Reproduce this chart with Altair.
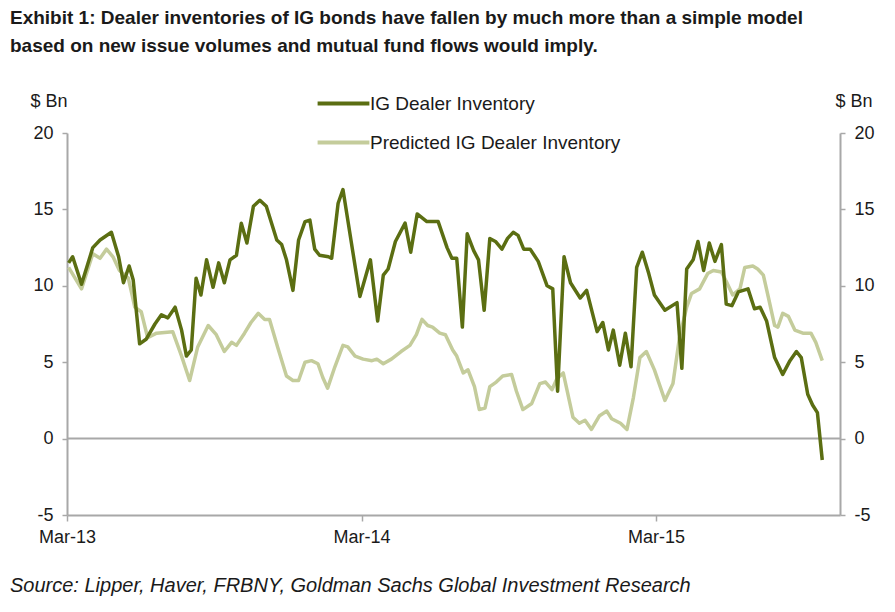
import altair as alt
import pandas as pd

TITLE_LINES = [
    "Exhibit 1: Dealer inventories of IG bonds have fallen by much more than a simple model",
    "based on new issue volumes and mutual fund flows would imply.",
]
SOURCE = "Source: Lipper, Haver, FRBNY, Goldman Sachs Global Investment Research"
SERIES = ["IG Dealer Inventory", "Predicted IG Dealer Inventory"]
COLORS = ["#5b6e12", "#c4cc9b"]
Y_TICKS = [-5, 0, 5, 10, 15, 20]
Y_DOMAIN = [-5, 20]
X_TICK_YEARS = [2013, 2014, 2015]
X_DOMAIN = [(2013, 3, 1), (2015, 10, 15)]

dealer_dates = [
    "2013-03-03", "2013-03-08", "2013-03-19", "2013-04-02", "2013-04-11", "2013-04-25", "2013-05-04", "2013-05-10", "2013-05-17", "2013-05-22",
    "2013-05-30", "2013-06-07", "2013-06-18", "2013-06-26", "2013-07-04", "2013-07-13", "2013-07-21", "2013-07-27", "2013-08-02", "2013-08-08",
    "2013-08-14", "2013-08-21", "2013-08-29", "2013-09-05", "2013-09-12", "2013-09-19", "2013-09-27", "2013-10-03", "2013-10-10", "2013-10-18",
    "2013-10-26", "2013-11-03", "2013-11-16", "2013-11-22", "2013-11-28", "2013-12-06", "2013-12-13", "2013-12-21", "2013-12-27", "2014-01-02",
    "2014-01-08", "2014-01-19", "2014-01-23", "2014-01-31", "2014-02-06", "2014-02-27", "2014-03-12", "2014-03-21", "2014-03-28", "2014-04-03",
    "2014-04-12", "2014-04-24", "2014-05-01", "2014-05-09", "2014-05-21", "2014-06-04", "2014-06-15", "2014-06-21", "2014-06-27", "2014-07-04",
    "2014-07-10", "2014-07-18", "2014-07-24", "2014-07-31", "2014-08-07", "2014-08-14", "2014-08-22", "2014-08-29", "2014-09-05", "2014-09-11",
    "2014-09-18", "2014-09-26", "2014-10-06", "2014-10-17", "2014-10-24", "2014-10-30", "2014-11-07", "2014-11-15", "2014-11-27", "2014-12-05",
    "2014-12-18", "2014-12-25", "2015-01-01", "2015-01-07", "2015-01-15", "2015-01-22", "2015-01-29", "2015-02-05", "2015-02-12", "2015-02-20",
    "2015-02-27", "2015-03-12", "2015-03-27", "2015-04-02", "2015-04-08", "2015-04-16", "2015-04-22", "2015-04-29", "2015-05-06", "2015-05-13",
    "2015-05-21", "2015-05-27", "2015-06-03", "2015-06-11", "2015-06-17", "2015-06-23", "2015-07-01", "2015-07-08", "2015-07-16", "2015-07-26",
    "2015-08-05", "2015-08-14", "2015-08-22", "2015-08-28", "2015-09-05", "2015-09-11", "2015-09-17", "2015-09-23",
]
dealer_values = [
    11.5, 11.9, 10.1, 12.5, 13.0, 13.5, 11.9, 10.2, 11.3, 10.4,
    6.2, 6.5, 7.5, 8.1, 7.9, 8.6, 7.1, 5.4, 5.8, 10.5,
    9.4, 11.7, 9.9, 11.5, 10.2, 11.7, 12.0, 14.1, 12.8, 15.2,
    15.6, 15.2, 13.0, 12.7, 11.7, 9.7, 13.0, 14.2, 14.3, 12.4,
    12.0, 11.9, 11.8, 15.4, 16.3, 9.3, 11.7, 7.7, 10.7, 11.1,
    12.9, 14.1, 12.2, 14.7, 14.2, 14.2, 12.5, 11.8, 11.8, 7.3,
    13.4, 12.3, 11.7, 8.4, 13.1, 12.9, 12.4, 13.1, 13.5, 13.3,
    12.4, 12.4, 11.6, 10.0, 9.8, 3.1, 11.9, 10.2, 9.2, 9.7,
    7.0, 7.6, 5.8, 7.1, 4.8, 6.9, 4.7, 11.2, 12.2, 10.8,
    9.4, 8.4, 8.9, 4.6, 11.1, 11.7, 12.9, 11.0, 12.8, 11.6,
    12.7, 8.8, 8.7, 9.6, 9.7, 9.8, 8.5, 8.6, 7.7, 5.3,
    4.2, 5.1, 5.7, 5.3, 2.9, 2.2, 1.7, -1.4,
]

predicted_dates = [
    "2013-03-03", "2013-03-19", "2013-04-02", "2013-04-11", "2013-04-19", "2013-04-27", "2013-05-05", "2013-05-16", "2013-05-24", "2013-06-01",
    "2013-06-09", "2013-06-20", "2013-07-10", "2013-07-21", "2013-07-31", "2013-08-10", "2013-08-23", "2013-09-02", "2013-09-12", "2013-09-21",
    "2013-09-27", "2013-10-07", "2013-10-15", "2013-10-24", "2013-11-01", "2013-11-07", "2013-11-17", "2013-11-28", "2013-12-06", "2013-12-13",
    "2013-12-21", "2013-12-29", "2014-01-06", "2014-01-12", "2014-01-18", "2014-01-27", "2014-02-06", "2014-02-12", "2014-02-21", "2014-03-03",
    "2014-03-14", "2014-03-20", "2014-03-28", "2014-04-07", "2014-04-19", "2014-04-30", "2014-05-08", "2014-05-15", "2014-05-22", "2014-05-28",
    "2014-06-06", "2014-06-13", "2014-06-22", "2014-06-27", "2014-07-05", "2014-07-11", "2014-07-19", "2014-07-25", "2014-08-01", "2014-08-07",
    "2014-08-15", "2014-08-23", "2014-09-03", "2014-09-09", "2014-09-17", "2014-09-28", "2014-10-08", "2014-10-15", "2014-10-23", "2014-10-29",
    "2014-11-06", "2014-11-18", "2014-11-26", "2014-12-03", "2014-12-11", "2014-12-21", "2014-12-30", "2015-01-05", "2015-01-16", "2015-01-24",
    "2015-02-01", "2015-02-09", "2015-02-17", "2015-02-27", "2015-03-12", "2015-03-22", "2015-03-30", "2015-04-08", "2015-04-14", "2015-04-24",
    "2015-05-04", "2015-05-11", "2015-05-21", "2015-05-27", "2015-06-04", "2015-06-13", "2015-06-19", "2015-06-29", "2015-07-05", "2015-07-12",
    "2015-07-18", "2015-07-26", "2015-07-30", "2015-08-05", "2015-08-12", "2015-08-20", "2015-08-30", "2015-09-09", "2015-09-15", "2015-09-23",
]
predicted_values = [
    11.2, 9.8, 12.1, 11.8, 12.4, 11.9, 11.0, 10.5, 8.6, 8.3,
    6.6, 6.9, 7.0, 5.4, 3.8, 6.0, 7.4, 6.8, 5.7, 6.3,
    6.1, 6.9, 7.6, 8.2, 7.8, 7.8, 6.0, 4.1, 3.8, 3.8,
    5.0, 5.1, 4.9, 4.0, 3.3, 4.7, 6.1, 6.0, 5.4, 5.2,
    5.1, 5.2, 4.9, 5.2, 5.7, 6.1, 6.8, 7.8, 7.4, 7.3,
    6.9, 6.8, 5.8, 5.4, 4.3, 4.5, 3.4, 1.9, 2.0, 3.4,
    3.7, 4.1, 4.2, 3.1, 1.9, 2.3, 3.6, 3.7, 3.2, 3.9,
    4.3, 1.4, 1.0, 1.2, 0.6, 1.5, 1.8, 1.3, 1.0, 0.6,
    2.7, 5.3, 5.7, 4.5, 2.5, 3.6, 6.6, 8.6, 9.5, 9.8,
    10.8, 11.0, 10.9, 10.3, 9.4, 9.8, 11.2, 11.3, 11.1, 10.7,
    9.3, 7.4, 7.3, 8.2, 8.0, 7.1, 6.9, 6.9, 6.3, 5.1,
]

FONT = "Liberation Sans, Arial, sans-serif"
AXIS_GRAY = "#a8a8a8"
TEXT = "#1a1a1a"

dealer = pd.DataFrame({"date": dealer_dates, "value": dealer_values, "series": SERIES[0]})
predicted = pd.DataFrame({"date": predicted_dates, "value": predicted_values, "series": SERIES[1]})

x_dom = [alt.DateTime(year=y, month=m, date=d, utc=True) for (y, m, d) in X_DOMAIN]
x_ticks = [alt.DateTime(year=y, month=3, date=1, utc=True) for y in X_TICK_YEARS]

x_enc = alt.X(
    "date:T",
    scale=alt.Scale(type="utc", domain=x_dom),
    axis=alt.Axis(
        values=x_ticks, labelExpr="utcFormat(datum.value, '%b-%y')", title=None, grid=False,
        labelFlush=False,
        domainColor=AXIS_GRAY, domainWidth=2, tickColor=AXIS_GRAY, tickWidth=1.5, tickSize=6,
        labelFont=FONT, labelFontSize=18, labelColor=TEXT, labelPadding=7,
    ),
)

y_scale = alt.Scale(domain=Y_DOMAIN, nice=False, zero=False)


def y_axis(orient, title_x):
    return alt.Axis(
        orient=orient, values=Y_TICKS, grid=False,
        labelExpr="replace(datum.label, '\u2212', '-')",
        domainColor=AXIS_GRAY, domainWidth=2, tickColor=AXIS_GRAY, tickWidth=1.5, tickSize=5,
        labelFont=FONT, labelFontSize=18, labelColor=TEXT, labelPadding=9,
        title="$ Bn", titleAngle=0, titleX=title_x, titleY=-27, titleAlign="left",
        titleBaseline="alphabetic", titleFont=FONT, titleFontSize=18, titleFontWeight="normal",
        titleColor=TEXT,
    )


color_scale = alt.Scale(domain=SERIES, range=COLORS)
legend = alt.Legend(
    orient="none", legendX=256, legendY=-50, title=None,
    symbolType="M-1.4,0H1.4", symbolSize=1369, symbolStrokeWidth=4,
    labelFont=FONT, labelFontSize=19, labelColor=TEXT, labelOffset=6, labelLimit=500,
    rowPadding=8,
)

zero_rule = alt.Chart(pd.DataFrame({"v": [0]})).mark_rule(color=AXIS_GRAY, strokeWidth=2).encode(
    y=alt.Y("v:Q", scale=y_scale, axis=None)
)

pred_line = alt.Chart(predicted).mark_line(strokeWidth=3.5, strokeJoin="round").encode(
    x=x_enc,
    y=alt.Y("value:Q", scale=y_scale, axis=y_axis("right", -5)),
    color=alt.Color("series:N", scale=color_scale, legend=legend),
)

dealer_line = alt.Chart(dealer).mark_line(strokeWidth=3.5, strokeJoin="round").encode(
    x=x_enc,
    y=alt.Y("value:Q", scale=y_scale, axis=y_axis("left", -37)),
    color=alt.Color("series:N", scale=color_scale, legend=legend),
)

title_text = alt.Chart(pd.DataFrame({"k": [0]})).mark_text(
    align="left", baseline="alphabetic", font=FONT, fontSize=19, fontWeight="bold",
    color=TEXT, lineHeight=28,
).encode(x=alt.value(-57), y=alt.value(-109), text=alt.value(TITLE_LINES))

source_text = alt.Chart(pd.DataFrame({"k": [0]})).mark_text(
    align="left", baseline="alphabetic", font=FONT, fontSize=20, fontStyle="italic",
    color=TEXT,
).encode(x=alt.value(-57), y=alt.value(459), text=alt.value(SOURCE))

chart = (
    alt.layer(zero_rule, pred_line, dealer_line, title_text, source_text)
    .resolve_scale(y="independent")
    .properties(
        width=773, height=382,
        padding={"left": 59, "top": 125, "right": 47, "bottom": 89},
        autosize=alt.AutoSizeParams(type="none"),
        background="white",
    )
    .configure_view(stroke=None)
)

chart.save("out.html", embed_options={"renderer": "svg", "actions": False})
